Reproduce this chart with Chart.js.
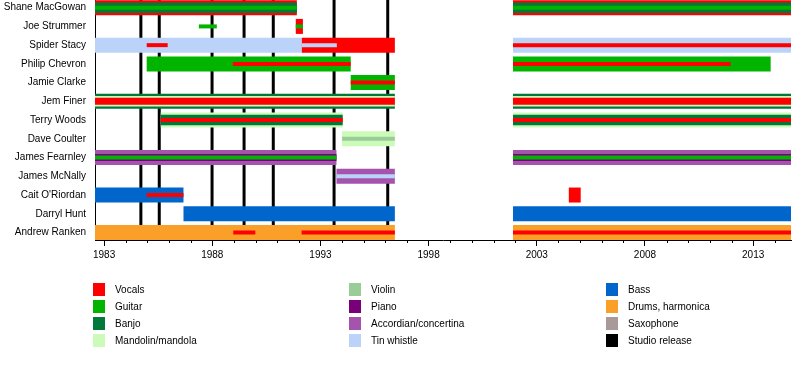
<!DOCTYPE html>
<html><head><meta charset="utf-8">
<script src="https://cdn.jsdelivr.net/npm/chart.js@4"></script>
<style>
html,body{margin:0;padding:0;background:#fff;}
#wrap{position:relative;width:800px;height:390px;overflow:hidden;}
canvas{position:absolute;left:0;top:0;}
.lg{position:absolute;font:10px "Liberation Sans", Arial, sans-serif;color:#000;height:13px;line-height:13px;white-space:nowrap;}
.lg i{position:absolute;left:0;top:0;width:12px;height:13px;}
.lg span{position:absolute;left:22px;top:0;}
</style></head>
<body><div id="wrap"><canvas id="c" width="800" height="390"></canvas></div>
<script>
// ---------- data ----------
const members = ["Shane MacGowan","Joe Strummer","Spider Stacy","Philip Chevron","Jamie Clarke","Jem Finer","Terry Woods","Dave Coulter","James Fearnley","James McNally","Cait O'Riordan","Darryl Hunt","Andrew Ranken"];
const timelineStart = 1982.58;
const timelineEnd = 2014.75;
const tickYears = [1983,1984,1985,1986,1987,1988,1989,1990,1991,1992,1993,1994,1995,1996,1997,1998,1999,2000,2001,2002,2003,2004,2005,2006,2007,2008,2009,2010,2011,2012,2013,2014];
const labelYears = [1983,1988,1993,1998,2003,2008,2013];
const studioReleases = [1984.70,1985.55,1987.99,1989.47,1990.82,1993.63,1996.11];

// main role (widest bar)
const primaryRoles = [
  ["Shane MacGowan","Vocals",1982.58,1991.91],
  ["Shane MacGowan","Vocals",2001.9,2014.75],
  ["Joe Strummer","Vocals",1991.86,1992.19],
  ["Spider Stacy","Tin whistle",1982.58,1992.14],
  ["Spider Stacy","Vocals",1992.14,1996.44],
  ["Spider Stacy","Tin whistle",2001.9,2014.75],
  ["Philip Chevron","Guitar",1984.97,1994.4],
  ["Philip Chevron","Guitar",2001.9,2013.81],
  ["Jamie Clarke","Guitar",1994.4,1996.44],
  ["Jem Finer","Banjo",1982.58,1996.44],
  ["Jem Finer","Banjo",2001.9,2014.75],
  ["Terry Woods","Mandolin/mandola",1985.62,1994.03],
  ["Terry Woods","Mandolin/mandola",2001.9,2014.75],
  ["Dave Coulter","Mandolin/mandola",1994.0,1996.44],
  ["James Fearnley","Accordian/concertina",1982.58,1993.74],
  ["James Fearnley","Accordian/concertina",2001.9,2014.75],
  ["James McNally","Accordian/concertina",1993.74,1996.44],
  ["Cait O'Riordan","Bass",1982.58,1986.67],
  ["Cait O'Riordan","Vocals",2004.48,2005.03],
  ["Darryl Hunt","Bass",1986.67,1996.44],
  ["Darryl Hunt","Bass",2001.9,2014.75],
  ["Andrew Ranken","Drums, harmonica",1982.58,1996.44],
  ["Andrew Ranken","Drums, harmonica",2001.9,2014.75]
];
const secondaryRoles = [
  ["Shane MacGowan","Banjo",1982.58,1991.91],
  ["Shane MacGowan","Banjo",2001.9,2014.75],
  ["Jem Finer","Mandolin/mandola",1982.58,1996.44],
  ["Jem Finer","Mandolin/mandola",2001.9,2014.75],
  ["Terry Woods","Banjo",1985.62,1994.03],
  ["Terry Woods","Banjo",2001.9,2014.75]
];
const tertiaryRoles = [
  ["Jem Finer","Vocals",1982.58,1996.44],
  ["Jem Finer","Vocals",2001.9,2014.75],
  ["James Fearnley","Piano",1982.58,1993.74],
  ["James Fearnley","Piano",2001.9,2014.75]
];
const minorRoles = [
  ["Shane MacGowan","Guitar",1982.58,1991.91],
  ["Shane MacGowan","Guitar",2001.9,2014.75],
  ["Joe Strummer","Guitar",1987.38,1988.21],
  ["Joe Strummer","Guitar",1991.86,1992.19],
  ["Spider Stacy","Vocals",1984.97,1985.94],
  ["Spider Stacy","Tin whistle",1992.14,1993.76],
  ["Spider Stacy","Vocals",2001.9,2014.75],
  ["Philip Chevron","Vocals",1988.95,1994.4],
  ["Philip Chevron","Vocals",2001.9,2011.96],
  ["Jamie Clarke","Vocals",1994.4,1996.44],
  ["Terry Woods","Vocals",1985.62,1994.03],
  ["Terry Woods","Vocals",2001.9,2014.75],
  ["Dave Coulter","Violin",1994.0,1996.44],
  ["James Fearnley","Guitar",1982.58,1993.74],
  ["James Fearnley","Guitar",2001.9,2014.75],
  ["James McNally","Tin whistle",1993.74,1996.44],
  ["Cait O'Riordan","Vocals",1984.96,1986.67],
  ["Andrew Ranken","Vocals",1988.97,1989.99],
  ["Andrew Ranken","Vocals",1992.13,1996.44],
  ["Andrew Ranken","Vocals",2001.9,2014.75]
];
const legendColumns = [
  ["Vocals","Guitar","Banjo","Mandolin/mandola"],
  ["Violin","Piano","Accordian/concertina","Tin whistle"],
  ["Bass","Drums, harmonica","Saxophone","Studio release"]
];

// ---------- style ----------
const colors = {
  "Vocals":"#ff0000","Guitar":"#00b400","Banjo":"#00793a","Mandolin/mandola":"#ccfbb9",
  "Violin":"#99cc99","Piano":"#780078","Accordian/concertina":"#a454ad","Tin whistle":"#bbd3f9",
  "Bass":"#0066cc","Drums, harmonica":"#fa9f28","Saxophone":"#aa9999","Studio release":"#000000"
};
const yMin = -0.41, yMax = 12.40;
const plotHeight = 240;
const pitch = plotHeight / (yMax - yMin);
const thickness = [15, 10.5, 7, 4];
const FONT = '"Liberation Sans", Arial, sans-serif';
Chart.defaults.font.family = FONT;
Chart.defaults.font.size = 10;
Chart.defaults.color = '#000';

const datasets = [];
[primaryRoles, secondaryRoles, tertiaryRoles, minorRoles].forEach((list, r) => {
  const groups = {};
  list.forEach(([m, inst, a, b]) => {
    (groups[inst] = groups[inst] || []).push({x:[a,b], y: members.indexOf(m)});
  });
  Object.keys(groups).forEach(inst => datasets.push({
    label: inst, data: groups[inst], backgroundColor: colors[inst],
    barPercentage: thickness[r] / pitch, categoryPercentage: 1, grouped: false,
    order: 4 - r, borderWidth: 0, borderSkipped: false, inflateAmount: 0
  }));
});

const releasePlugin = {
  id: 'releases',
  beforeDatasetsDraw(chart) {
    const {ctx, chartArea, scales} = chart;
    ctx.save();
    ctx.strokeStyle = colors["Studio release"];
    ctx.lineWidth = 3;
    studioReleases.forEach(v => {
      const x = scales.x.getPixelForValue(v);
      ctx.beginPath(); ctx.moveTo(x, chartArea.top); ctx.lineTo(x, chartArea.bottom); ctx.stroke();
    });
    ctx.restore();
  },
  afterDraw(chart) {
    const {ctx, chartArea, scales} = chart;
    ctx.save();
    ctx.strokeStyle = '#000'; ctx.lineWidth = 1;
    tickYears.filter(v => !labelYears.includes(v)).forEach(v => {
      const x = Math.round(scales.x.getPixelForValue(v)) + 0.5;
      ctx.beginPath(); ctx.moveTo(x, chartArea.bottom); ctx.lineTo(x, chartArea.bottom + 3); ctx.stroke();
    });
    ctx.restore();
  }
};

new Chart(document.getElementById('c'), {
  type: 'bar',
  data: { datasets },
  options: {
    indexAxis: 'y', responsive: false, animation: false, devicePixelRatio: 1,
    layout: { padding: { left: 0, right: 9, top: 0, bottom: 0 } },
    plugins: { legend: { display: false }, tooltip: { enabled: false } },
    scales: {
      x: {
        type: 'linear', min: timelineStart, max: timelineEnd, offset: false,
        afterBuildTicks: s => { s.ticks = tickYears.map(v => ({value: v})); },
        afterFit: s => { s.height = 150; s.paddingLeft = 0; s.paddingRight = 0; },
        ticks: { autoSkip: false, maxRotation: 0, padding: 3, color: '#000', font: {size: 10},
          callback: v => labelYears.includes(v) ? String(v) : '' },
        grid: { drawOnChartArea: false, offset: false, tickLength: 6, tickWidth: 1,
          tickColor: c => (c.tick && labelYears.includes(c.tick.value)) ? '#000' : 'rgba(0,0,0,0)' },
        border: { display: true, color: '#000', width: 1 }
      },
      y: {
        type: 'linear', reverse: true, min: yMin, max: yMax, offset: false,
        afterBuildTicks: s => { s.ticks = members.map((_, i) => ({value: i})); },
        afterFit: s => { s.width = 95; s.paddingTop = 0; s.paddingBottom = 0; },
        ticks: { padding: 9, color: '#000', font: {size: 10}, autoSkip: false, callback: v => members[v] },
        grid: { display: false, drawTicks: false, offset: false },
        border: { display: true, color: '#000', width: 1 }
      }
    }
  },
  plugins: [releasePlugin]
});

// ---------- legend ----------
const wrap = document.getElementById('wrap');
const colX = [93, 349, 606];
const rowY = [283, 300, 317, 334];
legendColumns.forEach((col, ci) => col.forEach((name, ri) => {
  const d = document.createElement('div');
  d.className = 'lg';
  d.style.left = colX[ci] + 'px'; d.style.top = rowY[ri] + 'px';
  const sw = document.createElement('i'); sw.style.background = colors[name];
  const t = document.createElement('span'); t.textContent = name;
  d.appendChild(sw); d.appendChild(t); wrap.appendChild(d);
}));
</script>
</body></html>
